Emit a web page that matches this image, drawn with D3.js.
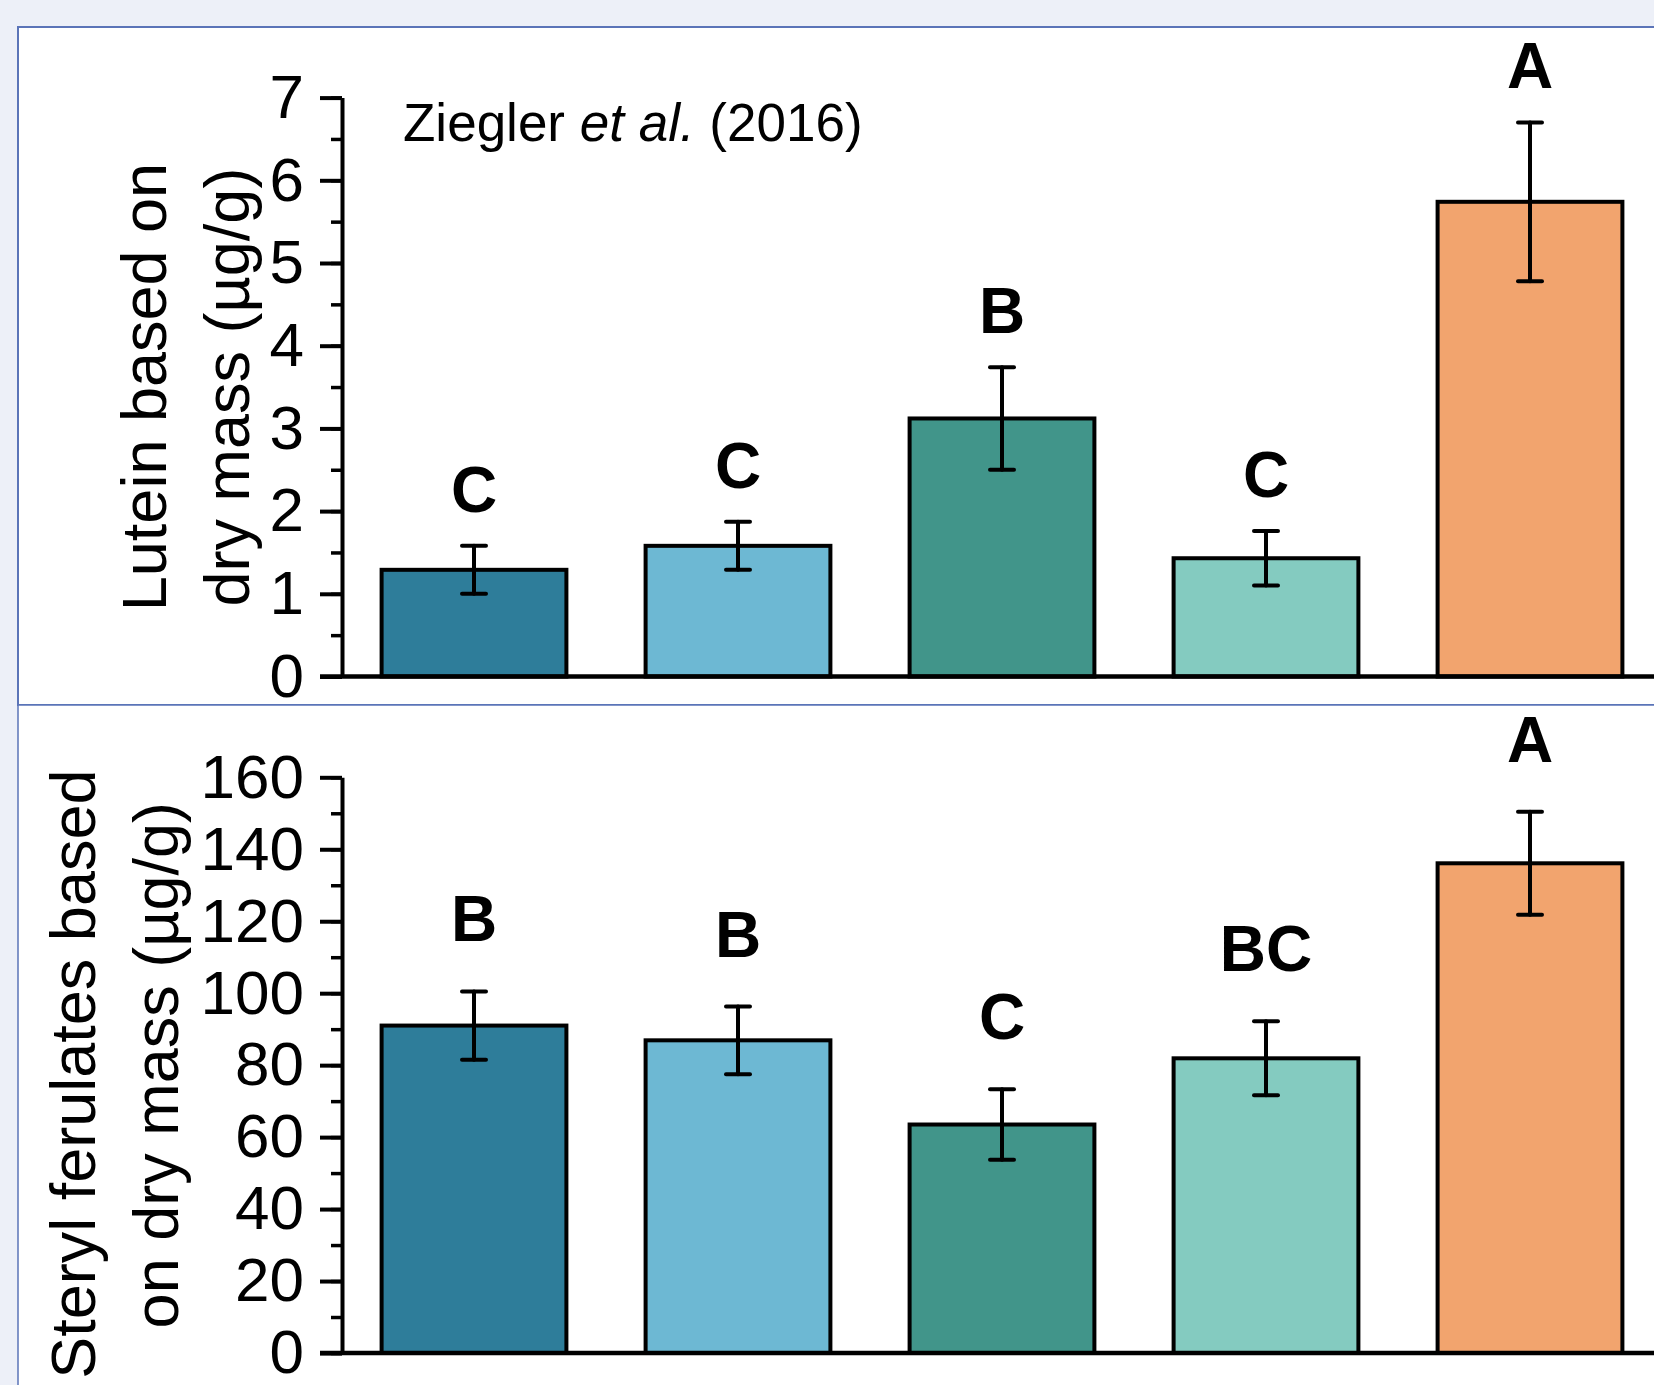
<!DOCTYPE html>
<html>
<head>
<meta charset="utf-8">
<script src="https://cdn.jsdelivr.net/npm/d3@7"></script>
<style>
  body { margin: 0; background: #edf0f8; }
  text { font-family: "Liberation Sans", Arial, sans-serif; fill: #000; }
</style>
</head>
<body>
<div id="chart"></div>
<script>
// two stacked bar panels: lutein and steryl ferulates, mean +/- error, with letters

// data
var groups = ['g1', 'g2', 'g3', 'g4', 'g5'];
var barColors = ['#2e7d9a', '#6db8d3', '#41958a', '#84cbc0', '#f2a46e'];

var luteinMean = [1.29, 1.58, 3.12, 1.43, 5.74];
var luteinErr = [0.29, 0.29, 0.62, 0.33, 0.96];
var luteinLetters = ['C', 'C', 'B', 'C', 'A'];
var luteinTicks = [0, 1, 2, 3, 4, 5, 6, 7];

var ferulMean = [91.0, 86.9, 63.5, 81.9, 136.1];
var ferulErr = [9.5, 9.4, 9.8, 10.3, 14.3];
var ferulLetters = ['B', 'B', 'C', 'BC', 'A'];
var ferulTicks = [0, 20, 40, 60, 80, 100, 120, 140, 160];

var svgWidth = 1654;
var svgHeight = 1385;

var svg = d3.select('#chart')
  .append('svg')
  .attr('width', svgWidth)
  .attr('height', svgHeight);

// page background and the two framed panels
svg.append('rect')
  .attr('width', svgWidth)
  .attr('height', svgHeight)
  .attr('fill', '#edf0f8');

svg.append('rect')
  .attr('x', 18).attr('y', 27)
  .attr('width', 1700).attr('height', 678)
  .attr('fill', '#fff')
  .attr('stroke', '#5b74b8')
  .attr('stroke-width', 2);

svg.append('rect')
  .attr('x', 18).attr('y', 705)
  .attr('width', 1700).attr('height', 760)
  .attr('fill', '#fff')
  .attr('stroke', '#5b74b8')
  .attr('stroke-width', 1.5);

var xScale = d3.scaleBand()
  .domain(groups)
  .range([342, 1662])
  .paddingInner(0.3)
  .paddingOuter(0.15);

function drawPanel(opts) {
  var yScale = d3.scaleLinear()
    .domain(opts.domain)
    .range([opts.y0, opts.yTop]);

  var g = svg.append('g');

  // minor ticks
  var minor = d3.range(opts.domain[0], opts.domain[1] + opts.minorStep / 2, opts.minorStep);
  g.append('g')
    .attr('transform', 'translate(342,0)')
    .call(d3.axisLeft(yScale).tickValues(minor).tickSize(11).tickSizeOuter(0).tickFormat(''))
    .call(a => a.select('.domain').remove())
    .call(a => a.selectAll('line').attr('stroke', '#000').attr('stroke-width', 3.5));

  // major ticks + labels
  var yAxis = g.append('g')
    .attr('transform', 'translate(342,0)')
    .call(d3.axisLeft(yScale).tickValues(opts.ticks).tickFormat(d3.format('d'))
      .tickSize(22).tickSizeOuter(0).tickPadding(16));
  yAxis.select('.domain').attr('stroke', '#000').attr('stroke-width', 4);
  yAxis.selectAll('line').attr('stroke', '#000').attr('stroke-width', 4);
  yAxis.selectAll('text')
    .attr('font-size', 62)
    .attr('font-family', '"Liberation Sans", Arial, sans-serif')
    .attr('fill', '#000');

  // bars
  g.selectAll('rect.bar')
    .data(opts.mean)
    .enter()
    .append('rect')
    .attr('class', 'bar')
    .attr('x', (d, i) => xScale(groups[i]))
    .attr('y', d => yScale(d))
    .attr('width', xScale.bandwidth())
    .attr('height', d => yScale(0) - yScale(d))
    .attr('fill', (d, i) => barColors[i])
    .attr('stroke', '#000')
    .attr('stroke-width', 4);

  // x baseline
  g.append('line')
    .attr('x1', 320).attr('x2', svgWidth)
    .attr('y1', yScale(0)).attr('y2', yScale(0))
    .attr('stroke', '#000')
    .attr('stroke-width', 4.5);

  // error bars
  var eb = g.selectAll('g.err')
    .data(opts.mean)
    .enter()
    .append('g')
    .attr('class', 'err')
    .attr('transform', (d, i) => `translate(${xScale(groups[i]) + xScale.bandwidth() / 2},0)`);
  eb.append('line')
    .attr('y1', (d, i) => yScale(d + opts.err[i]))
    .attr('y2', (d, i) => yScale(d - opts.err[i]));
  eb.append('line')
    .attr('x1', -12).attr('x2', 12)
    .attr('y1', (d, i) => yScale(d + opts.err[i]))
    .attr('y2', (d, i) => yScale(d + opts.err[i]));
  eb.append('line')
    .attr('x1', -12).attr('x2', 12)
    .attr('y1', (d, i) => yScale(d - opts.err[i]))
    .attr('y2', (d, i) => yScale(d - opts.err[i]));
  eb.selectAll('line')
    .attr('stroke', '#000')
    .attr('stroke-width', 4)
    .attr('stroke-linecap', 'round');

  // significance letters
  g.selectAll('text.letter')
    .data(opts.letters)
    .enter()
    .append('text')
    .attr('class', 'letter')
    .attr('x', (d, i) => xScale(groups[i]) + xScale.bandwidth() / 2)
    .attr('y', (d, i) => yScale(opts.mean[i] + opts.err[i]) - opts.letterGap)
    .attr('text-anchor', 'middle')
    .attr('font-size', 64)
    .attr('font-weight', 'bold')
    .text(d => d);

  // y title, two lines rotated
  var yMid = (opts.y0 + opts.yTop) / 2;
  opts.title.forEach(function(line, k) {
    g.append('text')
      .attr('transform', `translate(${opts.titleX[k]},${yMid + opts.titleShift[k]}) rotate(-90)`)
      .attr('text-anchor', 'middle')
      .attr('font-size', 63)
      .text(line);
  });

  return g;
}

drawPanel({
  domain: [0, 7], ticks: luteinTicks, minorStep: 0.5,
  y0: 676.5, yTop: 97.6,
  mean: luteinMean, err: luteinErr, letters: luteinLetters, letterGap: 34,
  title: ['Lutein based on', 'dry mass (\u00b5g/g)'], titleX: [166, 249], titleShift: [0, 0]
});

drawPanel({
  domain: [0, 160], ticks: ferulTicks, minorStep: 10,
  y0: 1353, yTop: 777.3,
  mean: ferulMean, err: ferulErr, letters: ferulLetters, letterGap: 50,
  title: ['Steryl ferulates based', 'on dry mass (\u00b5g/g)'], titleX: [95, 178], titleShift: [9, 0]
});

// source note in top panel
var note = svg.append('text')
  .attr('x', 403)
  .attr('y', 141)
  .attr('font-size', 53);
note.append('tspan').text('Ziegler ');
note.append('tspan').attr('font-style', 'italic').text('et al.');
note.append('tspan').text(' (2016)');
</script>
</body>
</html>
